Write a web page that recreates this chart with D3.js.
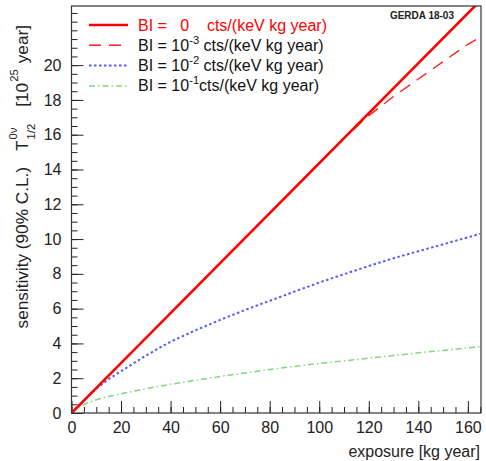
<!DOCTYPE html>
<html>
<head>
<meta charset="utf-8">
<script src="https://cdn.jsdelivr.net/npm/d3@7"></script>
<style>
  body { margin: 0; background: #fff; }
  text { font-family: "Liberation Sans", Arial, sans-serif; white-space: pre; }
</style>
</head>
<body>
<div id="chart"></div>
<script>
// exposure [kg year] sample points
var exposure = [0, 5, 10, 15, 20, 30, 40, 50, 60, 70, 80, 90, 100, 110, 120, 130, 140, 150, 160, 165];

// BI = 0 : straight line
var bi0Exposure = [0, 165];
var bi0Values = [0, 23.7];

// BI = 1e-3
var bi3Values = [0, 0.72, 1.44, 2.15, 2.87, 4.31, 5.75, 7.18, 8.62, 10.06, 11.5, 12.93, 14.37, 15.8, 17.1, 18.2, 19.2, 20.2, 21.2, 21.6];
// BI = 1e-2
var bi2Values = [0, 0.72, 1.4, 1.95, 2.4, 3.3, 4.1, 4.75, 5.35, 5.92, 6.45, 6.98, 7.5, 7.98, 8.45, 8.9, 9.3, 9.7, 10.1, 10.3];
// BI = 1e-1
var bi1Values = [0, 0.5, 0.76, 0.95, 1.1, 1.4, 1.65, 1.88, 2.1, 2.3, 2.5, 2.68, 2.85, 3.0, 3.15, 3.3, 3.46, 3.6, 3.74, 3.82];

var xMajor = [0, 20, 40, 60, 80, 100, 120, 140, 160];
var yMajor = [0, 2, 4, 6, 8, 10, 12, 14, 16, 18, 20];
var xMinor = d3.range(0, 166, 5);
var yMinor = d3.range(0, 23.4, 0.5);

var W = 486, H = 461;
var frame = { left: 71.5, right: 481, top: 6, bottom: 413 };

var x = d3.scaleLinear().domain([0, 165.3]).range([frame.left, frame.right]);
var y = d3.scaleLinear().domain([0, 23.4]).range([frame.bottom, frame.top]);

var svg = d3.select("#chart").append("svg")
    .attr("width", W)
    .attr("height", H);

svg.append("clipPath").attr("id", "clip")
    .append("rect")
    .attr("x", frame.left).attr("y", frame.top)
    .attr("width", frame.right - frame.left)
    .attr("height", frame.bottom - frame.top);

// axes (ticks pointing inward, ROOT style)
var gx = svg.append("g").attr("transform", "translate(0," + frame.bottom + ")");
gx.call(d3.axisBottom(x).tickValues(xMinor).tickSize(-6).tickFormat(""));
gx.append("g").call(d3.axisBottom(x).tickValues(xMajor).tickSize(-12).tickPadding(9).tickFormat(d3.format("d")));
gx.selectAll(".domain").remove();
gx.selectAll("text").attr("font-size", 16).attr("fill", "#222")
    .style("font-family", "Liberation Sans, Arial, sans-serif");

var gy = svg.append("g").attr("transform", "translate(" + frame.left + ",0)");
gy.call(d3.axisLeft(y).tickValues(yMinor).tickSize(-6).tickFormat(""));
gy.append("g").call(d3.axisLeft(y).tickValues(yMajor).tickSize(-12).tickPadding(10).tickFormat(d3.format("d")));
gy.selectAll(".domain").remove();
gy.selectAll("text").attr("font-size", 16).attr("fill", "#222")
    .style("font-family", "Liberation Sans, Arial, sans-serif");
svg.selectAll(".tick line").attr("stroke", "#222");

// curves
var plot = svg.append("g").attr("clip-path", "url(#clip)");
var line = d3.line()
    .x(function(d) { return x(d[0]); })
    .y(function(d) { return y(d[1]); });

function pairs(xs, ys) {
    return xs.map(function(v, i) { return [v, ys[i]]; });
}

var curves = [
    { data: pairs(exposure, bi3Values), color: "#ff2020", width: 1.4, dash: "12,8" },
    { data: pairs(exposure, bi2Values), color: "#5a5aff", width: 2, dash: "2.5,2.5" },
    { data: pairs(exposure, bi1Values), color: "#7fd87f", width: 1.5, dash: "6,3,1.5,3" },
    { data: pairs(bi0Exposure, bi0Values), color: "#ff0000", width: 2.6, dash: null }
];

curves.forEach(function(c) {
    plot.append("path")
        .attr("d", line(c.data))
        .attr("fill", "none")
        .attr("stroke", c.color)
        .attr("stroke-width", c.width)
        .attr("stroke-dasharray", c.dash);
});

// frame
svg.append("rect")
    .attr("x", frame.left).attr("y", frame.top)
    .attr("width", frame.right - frame.left)
    .attr("height", frame.bottom - frame.top)
    .attr("fill", "none")
    .attr("stroke", "#333")
    .attr("stroke-width", 1.2);

// draw a run of text pieces, with super/subscripts, measuring as we go
function richText(g, x0, y0, parts, size, color) {
    var cx = x0, lastX = x0;
    parts.forEach(function(p) {
        var fs = p.scale ? size * p.scale : size;
        cx += p.gap || 0;
        var px = p.stack ? lastX : cx;
        var t = g.append("text")
            .attr("x", px)
            .attr("y", y0 + (p.shift || 0))
            .attr("font-size", fs)
            .attr("fill", p.color || color)
            .text(p.t);
        var w = t.node().getComputedTextLength();
        if (!p.stack) lastX = cx;
        cx = Math.max(cx, px + w);
    });
    return cx - x0;
}

// legend
var legendRows = [
    { parts: [{ t: "BI =   0    cts/(keV kg year)" }], color: "#ff0000", c: 3 },
    { parts: [{ t: "BI = 10" }, { t: "-3", scale: 0.7, shift: -7 }, { t: " cts/(keV kg year)" }], color: "#111", c: 0 },
    { parts: [{ t: "BI = 10" }, { t: "-2", scale: 0.7, shift: -7 }, { t: " cts/(keV kg year)" }], color: "#111", c: 1 },
    { parts: [{ t: "BI = 10" }, { t: "-1", scale: 0.7, shift: -7 }, { t: "cts/(keV kg year)" }], color: "#111", c: 2 }
];
var legend = svg.append("g");
legendRows.forEach(function(r, i) {
    var cy = 25 + i * 20.3;
    var c = curves[r.c];
    legend.append("line")
        .attr("x1", 89).attr("x2", 128)
        .attr("y1", cy).attr("y2", cy)
        .attr("stroke", c.color)
        .attr("stroke-width", c.width)
        .attr("stroke-dasharray", c.dash);
    richText(legend, 138, cy + 5.5, r.parts, 16, r.color);
});

// tag
svg.append("text")
    .attr("x", 454).attr("y", 19)
    .attr("text-anchor", "end")
    .attr("font-size", 10)
    .attr("font-weight", "bold")
    .attr("fill", "#222")
    .text("GERDA 18-03");

// x title
svg.append("text")
    .attr("x", 480).attr("y", 457)
    .attr("text-anchor", "end")
    .attr("font-size", 16)
    .attr("fill", "#222")
    .text("exposure [kg year]");

// y title (rotated, aligned to the top end of the axis)
var gt = svg.append("g").attr("transform", "translate(28,0) rotate(-90)");
var yt = gt.append("g");
var wTitle = richText(yt, 0, 0, [
    { t: "sensitivity (90% C.L.)" },
    { t: "T", gap: 16 },
    { t: "0\u03bd", scale: 0.66, shift: -11, gap: 1 },
    { t: "1/2", scale: 0.66, shift: 7, stack: true },
    { t: "[10", gap: 17 },
    { t: "25", scale: 0.66, shift: -10, gap: 1 },
    { t: "year]", gap: 6 }
], 17.2, "#222");
yt.attr("transform", "translate(" + (-25 - wTitle) + ",0)");
</script>
</body>
</html>
